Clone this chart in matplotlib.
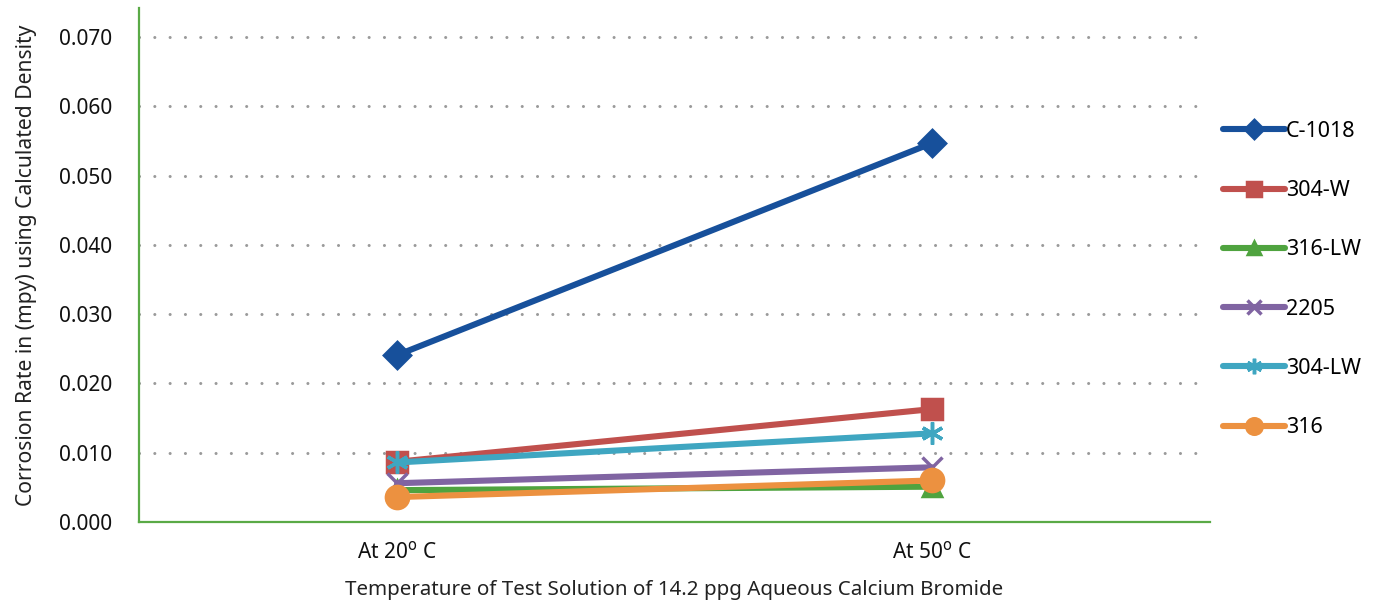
import numpy as np
import matplotlib.pyplot as plt

plt.rcParams['font.family'] = ['Noto Sans', 'DejaVu Sans']

# Data
categories = ['At 20$^{\\rm o}$ C', 'At 50$^{\\rm o}$ C']
series_names = ['C-1018', '304-W', '316-LW', '2205', '304-LW', '316']
c1018 = [0.0241, 0.0547]
s304w = [0.0087, 0.0163]
s316lw = [0.0046, 0.0051]
s2205 = [0.0056, 0.0079]
s304lw = [0.0086, 0.0128]
s316 = [0.0036, 0.0060]

colors = ['#17509b', '#c0504d', '#4fa33f', '#8064a2', '#3fa6c1', '#ec9140']
markers = ['D', 's', '^', 'x', (6, 2, 0), 'o']
msizes = [13, 15, 13, 14, 16, 16]
values = [c1018, s304w, s316lw, s2205, s304lw, s316]

fig = plt.figure(figsize=(13.75, 6.06), dpi=100)
ax = fig.add_axes([0.101, 0.1386, 0.779, 0.848])

x = np.arange(len(categories))
handles = []
for name, vals, c, m, ms in zip(series_names, values, colors, markers, msizes):
    h, = ax.plot(x, vals, color=c, lw=4.4, marker=m, markersize=ms,
                 markeredgecolor=c, markeredgewidth=2.5, label=name,
                 solid_capstyle='round')
    handles.append(h)

ax.set_xlim(-0.483, 1.52)
ax.set_ylim(0, 0.0742)
ax.set_yticks(np.arange(0, 0.0701, 0.01))
ax.set_yticklabels(['%.3f' % v for v in np.arange(0, 0.0701, 0.01)])
ax.set_xticks(x)
ax.set_xticklabels(categories)
ax.tick_params(axis='both', length=0, labelsize=15, labelcolor='#111111')
ax.tick_params(axis='y', pad=19)
ax.tick_params(axis='x', pad=14)

for yv in np.arange(0.01, 0.0701, 0.01):
    ax.axhline(yv, color='#9a9a9a', lw=2.2, linestyle=(0, (0.01, 5)),
               dash_capstyle='round', zorder=0)

for side in ['top', 'right']:
    ax.spines[side].set_visible(False)
for side in ['left', 'bottom']:
    ax.spines[side].set_color('#5aaa46')
    ax.spines[side].set_linewidth(1.6)

ax.set_xlabel('Temperature of Test Solution of 14.2 ppg Aqueous Calcium Bromide',
              fontsize=14.8, labelpad=12, color='#222222')
ax.set_ylabel('Corrosion Rate in (mpy) using Calculated Density',
              fontsize=15.2, labelpad=16, color='#222222')

fig.legend(handles=handles, loc='upper left', bbox_to_anchor=(0.883, 0.815),
           frameon=False, fontsize=15.5, markerscale=0.7, labelspacing=1.78,
           handlelength=2.9, handletextpad=0.05, borderaxespad=0)

fig.savefig('out.png', dpi=100)
